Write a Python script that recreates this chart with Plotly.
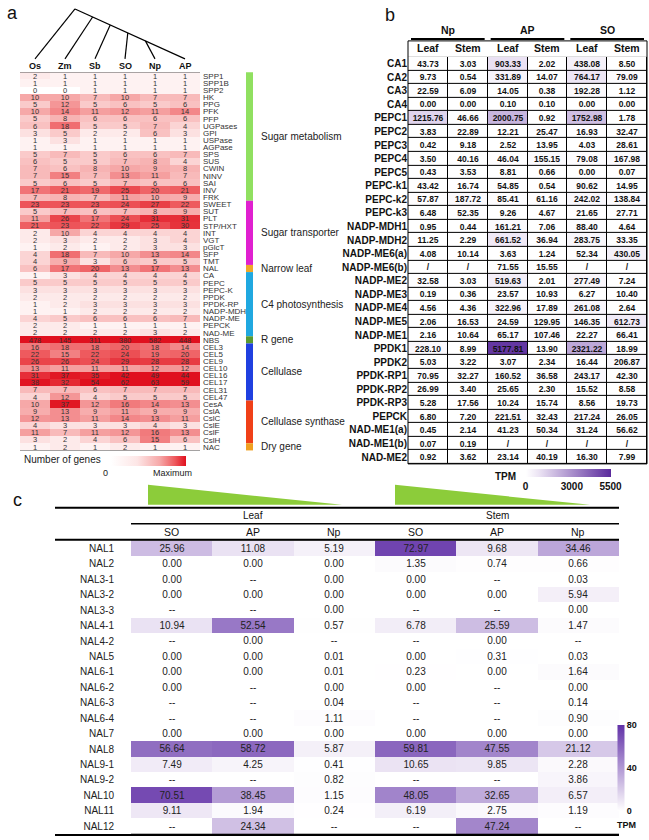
import plotly.graph_objects as go
import numpy as np

W, H = 649, 840
def fx(p): return p / W
def fy(p): return 1 - p / H

# ---------------- Panel a data ----------------
species = ["Os", "Zm", "Sb", "SO", "Np", "AP"]
genes_a = ["SPP1","SPP1B","SPP2","HK","PPG","PFK","PFP","UGPases","GPI","USPase","AGPase","SPS","SUS","CWIN","NINV","SAI","INV","FRK",
           "SWEET","SUT","PLT","STP/HXT","INT","VGT","pGlcT","SFP","TMT","NAL","CA","PEPC","PEPC-K","PPDK","PPDK-RP","NADP-MDH","NADP-ME",
           "PEPCK","NAD-ME","NBS","CEL3","CEL5","CEL9","CEL10","CEL16","CEL17","CEL31","CEL47","CesA","CslA","CslC","CslE","CslF","CslH","NAC"]
counts_a = [
 [2,1,1,1,1,1],[1,1,1,1,1,1],[0,0,1,1,1,1],[10,10,7,10,7,7],[5,12,5,6,5,6],[10,14,11,12,11,14],[5,8,6,6,6,6],
 [6,18,5,5,7,4],[3,5,2,2,6,3],[1,3,1,1,1,1],[1,1,1,1,1,1],[5,7,5,6,6,7],[6,5,5,7,8,4],[7,6,8,10,9,8],
 [7,15,7,13,11,7],[5,6,5,7,6,6],[17,21,19,25,20,21],[7,8,7,11,10,9],[23,23,23,24,27,22],[5,7,6,7,8,9],
 [11,26,17,24,31,31],[21,23,22,29,25,30],[2,10,4,4,4,4],[2,3,2,2,3,4],[1,2,1,2,3,3],[4,18,7,10,13,14],
 [4,9,3,6,5,5],[6,17,20,13,17,13],[1,3,4,4,4,4],[5,5,5,5,5,5],[3,3,3,3,3,3],[2,2,2,2,2,2],[1,2,3,3,3,3],
 [1,1,2,2,2,2],[4,5,6,6,6,7],[2,2,1,1,1,1],[2,2,2,2,3,2],[478,145,311,380,582,448],[16,18,18,20,18,14],
 [22,15,22,24,19,20],[26,26,24,29,28,28],[13,11,11,11,12,12],[31,37,35,42,49,44],[38,32,54,62,63,59],
 [7,7,6,7,7,7],[4,12,4,5,5,5],[10,37,12,16,14,13],[9,13,9,11,9,9],[12,13,11,14,13,11],[4,3,3,3,4,3],
 [11,7,11,12,16,13],[3,2,4,6,15,6],[1,2,1,2,1,1]]
groups = [("Sugar metabolism", 0, 17, "#90e060"), ("Sugar transporter", 18, 26, "#e020d0"),
          ("Narrow leaf", 27, 27, "#f0a828"), ("C4 photosynthesis", 28, 36, "#20a8e0"),
          ("R gene", 37, 37, "#5a9a30"), ("Cellulase", 38, 45, "#2040e0"),
          ("Cellulase synthase", 46, 51, "#f04018"), ("Dry gene", 52, 52, "#f0a020")]

# ---------------- Panel b data ----------------
genes_b = ["CA1","CA2","CA3","CA4","PEPC1","PEPC2","PEPC3","PEPC4","PEPC5","PEPC-k1","PEPC-k2","PEPC-k3","NADP-MDH1","NADP-MDH2",
           "NADP-ME6(a)","NADP-ME6(b)","NADP-ME2","NADP-ME3","NADP-ME4","NADP-ME5","NADP-ME1","PPDK1","PPDK2","PPDK-RP1","PPDK-RP2",
           "PPDK-RP3","PEPCK","NAD-ME1(a)","NAD-ME1(b)","NAD-ME2"]
np_leaf = [43.73,9.73,22.59,0.00,1215.76,3.83,0.42,3.50,0.43,43.42,57.87,6.48,0.95,11.25,4.08,None,32.58,0.19,4.56,2.06,2.16,228.10,5.03,70.95,26.99,5.28,6.80,0.45,0.07,0.92]
np_stem = [3.03,0.54,6.09,0.00,46.66,22.89,9.18,40.16,3.53,16.74,187.72,52.35,0.44,2.29,10.14,None,3.03,0.36,4.36,16.53,10.64,8.99,3.22,32.27,3.40,17.56,7.20,2.14,0.19,3.62]
ap_leaf = [903.33,331.89,14.05,0.10,2000.75,12.21,2.52,46.04,8.81,54.85,85.41,9.26,161.21,661.52,3.63,71.55,519.63,23.57,322.96,24.59,65.17,5177.81,3.07,160.52,25.65,10.24,221.51,41.23,None,23.14]
ap_stem = [2.02,14.07,0.38,0.10,0.92,25.47,13.95,155.15,0.66,0.54,61.16,4.67,7.06,36.94,1.24,15.55,2.01,10.93,17.89,129.95,107.46,13.90,2.34,36.58,2.30,15.74,32.43,50.34,None,40.19]
so_leaf = [438.08,764.17,192.28,0.00,1752.98,16.93,4.03,79.08,0.00,90.62,242.02,21.65,88.40,283.75,52.34,None,277.49,6.27,261.08,146.35,22.27,2321.22,16.44,243.17,15.52,8.56,217.24,31.24,None,16.30]
so_stem = [8.50,79.09,1.12,0.00,1.78,32.47,28.61,167.98,0.07,14.95,138.84,27.71,4.64,33.35,430.05,None,7.24,10.40,2.64,612.73,66.41,18.99,206.87,42.30,8.58,19.73,26.05,56.62,None,7.99]
cols_b = [np_leaf, np_stem, ap_leaf, ap_stem, so_leaf, so_stem]

# ---------------- Panel c data ----------------
genes_c = ["NAL1","NAL2","NAL3-1","NAL3-2","NAL3-3","NAL4-1","NAL4-2","NAL5","NAL6-1","NAL6-2","NAL6-3","NAL6-4","NAL7",
           "NAL8","NAL9-1","NAL9-2","NAL10","NAL11","NAL12"]
leaf_so = [25.96,0.00,0.00,0.00,None,10.94,None,0.00,0.00,0.00,None,None,0.00,56.64,7.49,None,70.51,9.11,None]
leaf_ap = [11.08,0.00,None,0.00,None,52.54,0.00,0.00,0.00,None,None,None,0.00,58.72,4.25,None,38.45,1.94,24.34]
leaf_np = [5.19,0.00,0.00,0.00,0.00,0.57,None,0.01,0.01,0.00,0.04,1.11,0.00,5.87,0.41,0.82,1.15,0.24,None]
stem_so = [72.97,1.35,0.00,0.00,None,6.78,None,0.00,0.23,0.00,None,None,0.00,59.81,10.65,None,48.05,6.19,None]
stem_ap = [9.68,0.74,None,0.00,None,25.59,0.00,0.31,0.00,None,None,None,0.00,47.55,9.85,None,32.65,2.75,47.24]
stem_np = [34.46,0.66,0.03,5.94,0.00,1.47,None,0.03,1.64,0.00,0.14,0.90,0.00,21.12,2.28,3.86,6.57,1.19,None]
cols_c = [leaf_so, leaf_ap, leaf_np, stem_so, stem_ap, stem_np]

FONT = "Liberation Sans"
fig = go.Figure()

# ---- panel a heatmap
za = [[min(np.log(v + 1) / np.log(40), 1.0) for v in row] for row in counts_a]
fig.add_trace(go.Heatmap(
    z=za, x=species, y=genes_a, text=[[str(v) for v in r] for r in counts_a],
    texttemplate="%{text}", textfont=dict(size=7.5, color="#333", family=FONT),
    colorscale=[[0, "#ffffff"], [0.35, "#fde6e6"], [0.65, "#f6a8a8"], [0.85, "#ee5a5e"], [1, "#e0101e"]],
    zmin=0, zmax=1, xaxis="x", yaxis="y", hoverinfo="skip",
    colorbar=dict(orientation="h", x=fx(148), xanchor="center", y=fy(466), yanchor="bottom",
                  xpad=0, ypad=0, len=fx(75), lenmode="fraction", thickness=10,
                  showticklabels=False, outlinewidth=0)))

# ---- panel b heatmap
zb = [[(c[i] if c[i] is not None else 0) for c in cols_b] for i in range(len(genes_b))]
tb = [[(f"{c[i]:.2f}" if c[i] is not None else "/") for c in cols_b] for i in range(len(genes_b))]
fig.add_trace(go.Heatmap(
    z=zb, x=list(range(6)), y=genes_b, text=tb, texttemplate="%{text}",
    textfont=dict(size=8.5, color="#111", family=FONT, weight="bold"),
    colorscale=[[0, "#ffffff"], [0.15, "#ece4f4"], [1, "#5a2a9c"]], zmin=0, zmax=5500,
    xgap=1, ygap=1, xaxis="x2", yaxis="y2", hoverinfo="skip",
    colorbar=dict(orientation="h", x=fx(568), xanchor="center", y=fy(488), yanchor="bottom",
                  xpad=0, ypad=0, len=fx(85), lenmode="fraction", thickness=8, tickvals=[0, 3000, 5500],
                  tickfont=dict(size=10, family=FONT, weight="bold"), ticks="", outlinewidth=0)))

# ---- panel c heatmap
zc = [[(c[i] if c[i] is not None else 0) for c in cols_c] for i in range(len(genes_c))]
tc = [[(f"{c[i]:.2f}" if c[i] is not None else "--") for c in cols_c] for i in range(len(genes_c))]
fig.add_trace(go.Heatmap(
    z=zc, x=list(range(6)), y=genes_c, text=tc, texttemplate="%{text}",
    textfont=dict(size=10, color="#222", family=FONT),
    colorscale=[[0, "#ffffff"], [0.1, "#f0eaf6"], [1, "#6232a8"]], zmin=0, zmax=80,
    xaxis="x3", yaxis="y3", hoverinfo="skip",
    colorbar=dict(x=fx(626), xanchor="center", y=fy(812), yanchor="bottom", len=86 / H,
                  lenmode="fraction", thickness=7, xpad=0, ypad=0, tickvals=[0, 40, 80], ticks="",
                  tickfont=dict(size=9, family=FONT, weight="bold"), outlinewidth=0)))

ax_common = dict(showgrid=False, zeroline=False, showline=False, ticks="")
fig.update_layout(
    width=W, height=H, margin=dict(l=0, r=0, t=0, b=0), showlegend=False,
    paper_bgcolor="white", plot_bgcolor="black", font=dict(family=FONT, color="#111"),
    xaxis=dict(domain=[fx(20), fx(200)], showticklabels=False, **ax_common),
    yaxis=dict(domain=[fy(450.5), fy(71.5)], autorange="reversed", side="right",
               tickmode="array", tickvals=genes_a, ticktext=genes_a, ticklabelstandoff=2,
               tickfont=dict(size=8, family=FONT, color="#333"), anchor="x", **ax_common),
    xaxis2=dict(domain=[fx(408), fx(647)], showticklabels=False, anchor="y2", **ax_common),
    yaxis2=dict(domain=[fy(464), fy(56)], autorange="reversed", anchor="x2",
                tickmode="array", tickvals=genes_b, ticktext=genes_b,
                tickfont=dict(size=10, family=FONT, weight="bold"), **ax_common),
    xaxis3=dict(domain=[fx(131), fx(619)], showticklabels=False, anchor="y3", **ax_common),
    yaxis3=dict(domain=[fy(835), fy(541)], autorange="reversed", anchor="x3",
                tickmode="array", tickvals=genes_c, ticktext=genes_c,
                tickfont=dict(size=10, family=FONT, color="#222"), ticklabelstandoff=16, **ax_common),
)

shapes, ann = [], []
def line(x0, y0, x1, y1, w=1, c="black"):
    shapes.append(dict(type="line", xref="paper", yref="paper", x0=fx(x0), y0=fy(y0), x1=fx(x1), y1=fy(y1),
                       line=dict(color=c, width=w)))
def text(x, y, s, size=10, bold=False, xa="center", color="#111"):
    ann.append(dict(xref="paper", yref="paper", x=fx(x), y=fy(y), text=s, showarrow=False, xanchor=xa,
                    yanchor="middle", font=dict(size=size, family=FONT, color=color, weight="bold" if bold else "normal")))

# panel labels
text(12, 12, "a", 18); text(390, 14, "b", 18); text(17, 500, "c", 18)

# panel a column labels + cladogram
leafx = [35 + 30 * i for i in range(6)]
for i, s in enumerate(species):
    text(leafx[i], 65, s, 9, bold=True)
apex = (75, 8); yl = 58
line(apex[0], apex[1], leafx[0], yl, 1.2)
line(apex[0], apex[1], leafx[5], yl, 1.2)
for i in range(1, 5):
    t = i / 5.0
    nx = apex[0] + (leafx[5] - apex[0]) * t * 0.8
    ny = apex[1] + (yl - apex[1]) * t * 0.8
    line(nx, ny, leafx[i], yl, 1.2)
# group bars
rowh = (450.5 - 71.5) / len(genes_a)
for name, a, b, col in groups:
    y0 = 71.5 + a * rowh; y1 = 71.5 + (b + 1) * rowh
    shapes.append(dict(type="rect", xref="paper", yref="paper", x0=fx(246), x1=fx(253), y0=fy(y1), y1=fy(y0),
                       fillcolor=col, line=dict(width=0)))
    text(259, (y0 + y1) / 2, name, 10, xa="left", color="#222")
text(22, 460, "Number of genes", 10, xa="left", color="#222")
text(105, 473, "0", 9, color="#222"); text(172, 473, "Maximum", 9, color="#222")

# panel b headers
colw = (647 - 408) / 6
for k, g in enumerate(["Np", "AP", "SO"]):
    xa0 = 408 + 2 * k * colw
    text(xa0 + colw, 29, g, 10.5, bold=True)
    line(xa0 + 3, 38, xa0 + 2 * colw - 3, 38, 2)
    text(xa0 + colw / 2, 47, "Leaf", 10.5, bold=True)
    text(xa0 + 1.5 * colw, 47, "Stem", 10.5, bold=True)
shapes.append(dict(type="rect", xref="paper", yref="paper", x0=fx(408), x1=fx(647), y0=fy(464), y1=fy(40),
                   line=dict(color="black", width=1)))
text(505, 477, "TPM", 10, bold=True)

# panel c headers
for x0, x1 in [(148, 342), (395, 590)]:
    shapes.append(dict(type="path", xref="paper", yref="paper",
                       path=f"M {fx(x0)},{fy(505)} L {fx(x0)},{fy(485)} L {fx(x1)},{fy(505)} Z",
                       fillcolor="#8ccc3a", line=dict(width=0)))
line(55, 508, 619, 508, 2)
ccw = (619 - 131) / 6
text(131 + 1.5 * ccw, 516, "Leaf", 10); text(131 + 4.5 * ccw, 516, "Stem", 10)
line(131, 524, 619, 524, 1.5)
for i, s in enumerate(["SO", "AP", "Np", "SO", "AP", "Np"]):
    text(131 + (i + 0.5) * ccw, 532, s, 10.5)
line(55, 540, 619, 540, 2)
line(55, 836, 619, 836, 2)
text(626, 826, "TPM", 9, bold=True)

fig.update_layout(shapes=shapes, annotations=ann)
fig.write_html("out.html", config={"displayModeBar": False},
               post_script="document.body.style.margin='0';document.body.style.overflow='hidden';")
